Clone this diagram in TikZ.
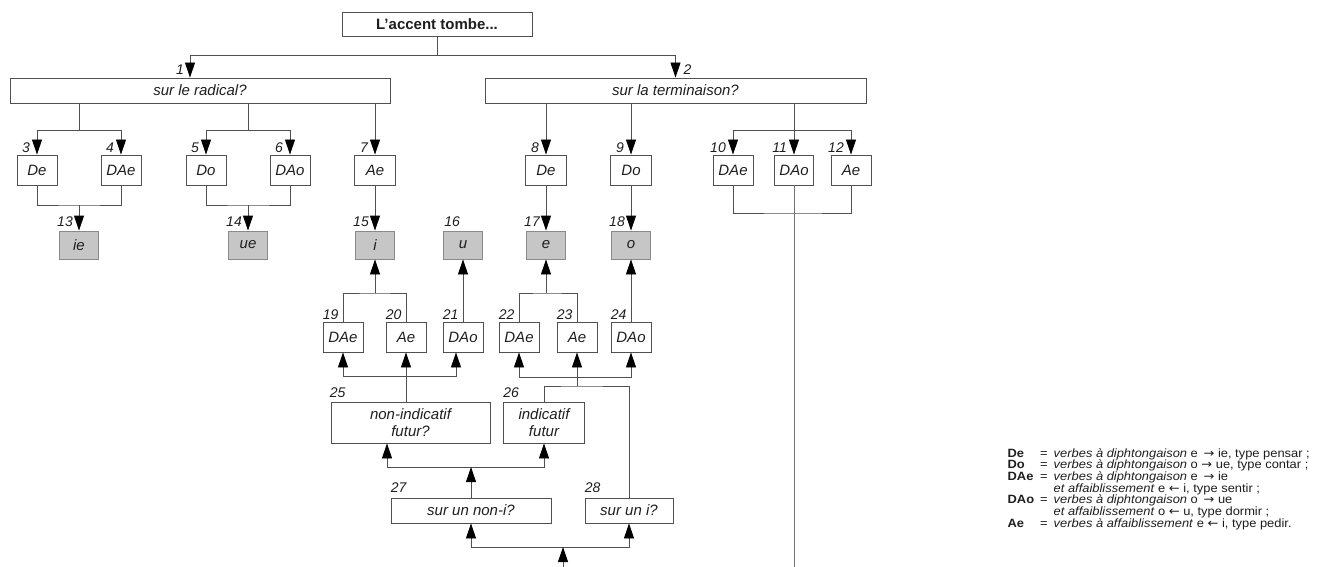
\documentclass[tikz,border=0pt]{standalone}
\usepackage{fontspec}
\setmainfont{Liberation Sans}
\newfontfamily\arrowfont{DejaVu Sans}
\usetikzlibrary{arrows.meta,calc}
\definecolor{linec}{HTML}{505050}
\definecolor{resfill}{HTML}{C6C6C6}
\definecolor{resdraw}{HTML}{8A8A8A}
\definecolor{txt}{HTML}{1E1E1E}
\begin{document}
\begin{tikzpicture}[x=1pt,y=-1pt,
  bx/.style={draw=linec, line width=0.9pt, inner sep=0pt, text=txt,
     font=\fontsize{15}{17}\selectfont\itshape, minimum height=30pt, minimum width=40pt, align=center},
  res/.style={bx, fill=resfill, draw=resdraw, minimum height=28pt, minimum width=39pt},
  qbox/.style={bx, minimum height=25pt},
  lab/.style={font=\fontsize{14}{14}\selectfont\itshape, text=txt, inner sep=0pt, anchor=base east},
  labw/.style={lab, anchor=base west},
  ln/.style={draw=linec, line width=0.9pt},
  arr/.style={-{Triangle[width=10pt,length=15pt,color=black]}}
]
\useasboundingbox (0,0) rectangle (1322,567);

% title and first level
\node[bx, font=\fontsize{15}{17}\selectfont\bfseries, minimum width=190pt, minimum height=24pt] (title) at (437,24) {L'accent tombe...};
\node[qbox, minimum width=380pt] (rad) at (200,90.5) {sur le radical?};
\node[qbox, minimum width=381pt] (ter) at (675.5,90.5) {sur la terminaison?};

% row 1
\node[bx] (b3) at (37,170) {De};
\node[bx] (b4) at (121,170) {DAe};
\node[bx] (b5) at (206,170) {Do};
\node[bx] (b6) at (290,170) {DAo};
\node[bx, minimum width=41pt] (b7) at (375,170) {Ae};
\node[bx, minimum width=41pt] (b8) at (546,170) {De};
\node[bx, minimum width=41pt] (b9) at (631,170) {Do};
\node[bx] (b10) at (733,170) {DAe};
\node[bx, minimum width=39pt] (b11) at (794,170) {DAo};
\node[bx] (b12) at (851,170) {Ae};

% row 2 (results)
\node[res] (b13) at (79,245) {ie};
\node[res] (b14) at (248,245) {ue};
\node[res] (b15) at (375,245) {i};
\node[res] (b16) at (463,245) {u};
\node[res] (b17) at (546,245) {e};
\node[res] (b18) at (631,245) {o};

% row 3
\node[bx] (b19) at (343,337) {DAe};
\node[bx] (b20) at (406,337) {Ae};
\node[bx] (b21) at (463,337) {DAo};
\node[bx] (b22) at (519,337) {DAe};
\node[bx] (b23) at (577,337) {Ae};
\node[bx] (b24) at (631,337) {DAo};

% questions
\node[bx, minimum width=159pt, minimum height=41pt] (b25) at (410.5,422.5) {non-indicatif\\futur?};
\node[bx, minimum width=81pt, minimum height=41pt] (b26) at (544,422.5) {indicatif\\futur};
\node[qbox, minimum width=160pt] (b27) at (471,510.5) {sur un non-i?};
\node[qbox, minimum width=88pt] (b28) at (629,510.5) {sur un i?};

% number labels
\node[lab] at ($(rad.north)+(-16,-3)$) {1};
\node[labw] at ($(ter.north)+(8,-3)$) {2};
\foreach \n in {3,4,5,6,7,8,9,10,11,12}{
  \node[lab] at ($(b\n.north)+(-7,-2)$) {\n};
}
\foreach \n in {13,14,15,17,18}{
  \node[lab] at ($(b\n.north)+(-6,-4)$) {\n};
}
\node[labw] at ($(b16.north west)+(1,-4)$) {16};
\foreach \n in {19,20,21,22,23,24}{
  \node[labw] at ($(b\n.north west)+(0,-2)$) {\n};
}
\node[labw] at ($(b25.north west)+(-1,-4)$) {25};
\node[labw] at ($(b26.north west)+(0,-4)$) {26};
\node[labw] at ($(b27.north west)+(0,-5)$) {27};
\node[labw] at ($(b28.north west)+(0,-5)$) {28};

% junction coordinates
\coordinate (j0) at (437,55);
\coordinate (h1) at (79,130);
\coordinate (h2) at (248,130);
\coordinate (h3) at (794,130);
\coordinate (h4) at (79,205);
\coordinate (h5) at (248,205);
\coordinate (h6) at (794,213);
\coordinate (h7) at (375,293);
\coordinate (h8) at (546,293);
\coordinate (h9) at (406,376);
\coordinate (h10) at (577,377);
\coordinate (h11) at (577,386);
\coordinate (h12) at (471,467);
\coordinate (h13) at (563,547);
\coordinate (bot) at (563,567);
\coordinate (bot11) at (794,567);

% top level
\draw[ln] (title.south) -- (j0);
\draw[ln,arr] (j0) -| ([xshift=-10pt]rad.north);
\draw[ln,arr] (j0) -| (ter.north);

% radical branches
\draw[ln] (rad.south -| h1) -- (h1);
\draw[ln,arr] (h1) -| (b3.north);
\draw[ln,arr] (h1) -| (b4.north);
\draw[ln] (rad.south -| h2) -- (h2);
\draw[ln,arr] (h2) -| (b5.north);
\draw[ln,arr] (h2) -| (b6.north);
\draw[ln,arr] (rad.south -| b7.north) -- (b7.north);

% terminaison branches
\draw[ln,arr] (ter.south -| b8.north) -- (b8.north);
\draw[ln,arr] (ter.south -| b9.north) -- (b9.north);
\draw[ln] (ter.south -| h3) -- (h3);
\draw[ln,arr] (h3) -| (b10.north);
\draw[ln,arr] (h3) -- (b11.north);
\draw[ln,arr] (h3) -| (b12.north);

% to results
\draw[ln] (b3.south) |- (h4) -| (b4.south);
\draw[ln,arr] (h4) -- (b13.north);
\draw[ln] (b5.south) |- (h5) -| (b6.south);
\draw[ln,arr] (h5) -- (b14.north);
\draw[ln,arr] (b7.south) -- (b15.north);
\draw[ln,arr] (b8.south) -- (b17.north);
\draw[ln,arr] (b9.south) -- (b18.north);
\draw[ln] (b10.south) |- (h6) -| (b12.south);
\draw[ln, draw=linec!80] (b11.south) -- (bot11);

% row 3 up to results
\draw[ln] (b19.north) |- (h7) -| (b20.north);
\draw[ln,arr] (h7) -- (b15.south);
\draw[ln,arr] (b21.north) -- (b16.south);
\draw[ln] (b22.north) |- (h8) -| (b23.north);
\draw[ln,arr] (h8) -- (b17.south);
\draw[ln,arr] (b24.north) -- (b18.south);

% questions up to row 3
\draw[ln,arr] (b25.north -| b20.south) -- (b20.south);
\draw[ln,arr] (h9) -| (b19.south);
\draw[ln,arr] (h9) -| ([xshift=-7pt]b21.south);
\draw[ln] (b26.north) |- (h11) -| (b28.north);
\draw[ln,arr] (h11) -- (b23.south);
\draw[ln,arr] (h10) -| (b22.south);
\draw[ln,arr] (h10) -| (b24.south);

% bottom
\draw[ln,arr] (h12) -| ([xshift=-23.5pt]b25.south);
\draw[ln,arr] (h12) -| (b26.south);
\draw[ln,arr] (b27.north) -- (h12);
\draw[ln,arr] (h13) -| (b27.south);
\draw[ln,arr] (h13) -| (b28.south);
\draw[ln,arr] (bot) -- (h13);

% legend
\node[anchor=north east, inner sep=0pt, text=txt] (leg) at (1310,448) {\scalebox{0.86}[0.8]{\fontsize{15}{12}\selectfont
\begin{tabular}{@{}l@{\hspace{7pt}}c@{\hspace{7pt}}l@{}}
\textbf{De} & = & \textit{verbes à diphtongaison} e \,{\arrowfont →} ie, type pensar ;\\
\textbf{Do} & = & \textit{verbes à diphtongaison} o {\arrowfont →} ue, type contar ;\\
\textbf{DAe} & = & \textit{verbes à diphtongaison} e \,{\arrowfont →} ie\\
 & & \textit{et affaiblissement} e {\arrowfont ←} i, type sentir ;\\
\textbf{DAo} & = & \textit{verbes à diphtongaison} o \,{\arrowfont →} ue\\
 & & \textit{et affaiblissement} o {\arrowfont ←} u, type dormir ;\\
\textbf{Ae} & = & \textit{verbes à affaiblissement} e {\arrowfont ←} i, type pedir.
\end{tabular}}};
\end{tikzpicture}
\end{document}
